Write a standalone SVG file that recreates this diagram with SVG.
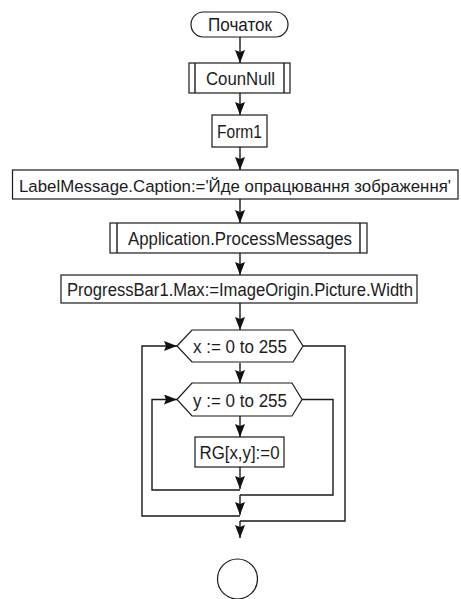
<svg xmlns="http://www.w3.org/2000/svg" width="461" height="599" viewBox="0 0 461 599">
  <style>
    .shape { fill: #ffffff; stroke: #1a1a1a; stroke-width: 1.2; }
    .line { fill: none; stroke: #1a1a1a; stroke-width: 1.4; }
    .label { font-family: "Liberation Sans", Arial, sans-serif; font-size: 18px; fill: #1c1c1c; text-anchor: middle; }
    .long { font-size: 16.8px; }
  </style>
  <defs>
    <marker id="arrow" viewBox="0 0 13 10" refX="13" refY="5" markerWidth="13" markerHeight="10" markerUnits="userSpaceOnUse" orient="auto">
      <path d="M0,0 L13,5 L0,10 L2,5 z" fill="#111111"/>
    </marker>
  </defs>
  <rect width="461" height="599" fill="#ffffff"/>

  <!-- connectors -->
  <g id="connectors">
    <line class="line" x1="240" y1="37" x2="240" y2="63" marker-end="url(#arrow)"/>
    <line class="line" x1="240" y1="93" x2="240" y2="115" marker-end="url(#arrow)"/>
    <line class="line" x1="240" y1="147" x2="240" y2="170" marker-end="url(#arrow)"/>
    <line class="line" x1="240" y1="199" x2="240" y2="223" marker-end="url(#arrow)"/>
    <line class="line" x1="240" y1="253" x2="240" y2="275" marker-end="url(#arrow)"/>
    <line class="line" x1="240" y1="303" x2="240" y2="330" marker-end="url(#arrow)"/>
    <line class="line" x1="240" y1="363" x2="240" y2="383" marker-end="url(#arrow)"/>
    <line class="line" x1="240" y1="416" x2="240" y2="437" marker-end="url(#arrow)"/>
    <line class="line" x1="240" y1="467" x2="240" y2="489" marker-end="url(#arrow)"/>
    <!-- inner loop return -->
    <polyline class="line" points="240,490 152,490 152,399.5 177,399.5" marker-end="url(#arrow)"/>
    <!-- inner loop exit -->
    <polyline class="line" points="302,399.5 333,399.5 333,495 240,495"/>
    <line class="line" x1="240" y1="495" x2="240" y2="515" marker-end="url(#arrow)"/>
    <!-- outer loop return -->
    <polyline class="line" points="240,516 142,516 142,346 177,346" marker-end="url(#arrow)"/>
    <!-- outer loop exit -->
    <polyline class="line" points="303,346 345,346 345,521 240,521"/>
    <line class="line" x1="240" y1="521" x2="240" y2="538" marker-end="url(#arrow)"/>
  </g>

  <g id="start">
    <rect class="shape" x="191" y="12" width="97" height="25" rx="12.5" ry="12.5"/>
    <text class="label" x="240" y="31" textLength="64" lengthAdjust="spacingAndGlyphs">Початок</text>
  </g>

  <g id="counnull">
    <rect class="shape" x="189" y="63" width="101" height="30"/>
    <line class="line" x1="195" y1="63" x2="195" y2="93"/>
    <line class="line" x1="284" y1="63" x2="284" y2="93"/>
    <text class="label" x="240.5" y="84.5" textLength="69" lengthAdjust="spacingAndGlyphs">CounNull</text>
  </g>

  <g id="form1">
    <rect class="shape" x="212" y="115" width="55" height="32"/>
    <text class="label" x="239.5" y="138" textLength="45" lengthAdjust="spacingAndGlyphs">Form1</text>
  </g>

  <g id="caption">
    <rect class="shape" x="12.5" y="170" width="445.5" height="29"/>
    <text class="label long" x="235" y="192" textLength="432" lengthAdjust="spacingAndGlyphs">LabelMessage.Caption:='Йде опрацювання зображення'</text>
  </g>

  <g id="process-messages">
    <rect class="shape" x="110" y="223" width="257" height="30"/>
    <line class="line" x1="117" y1="223" x2="117" y2="253"/>
    <line class="line" x1="360" y1="223" x2="360" y2="253"/>
    <text class="label" x="240" y="245" textLength="224" lengthAdjust="spacingAndGlyphs">Application.ProcessMessages</text>
  </g>

  <g id="progress-max">
    <rect class="shape" x="61" y="275" width="356" height="28"/>
    <text class="label" x="240" y="295.5" textLength="346" lengthAdjust="spacingAndGlyphs">ProgressBar1.Max:=ImageOrigin.Picture.Width</text>
  </g>

  <g id="loop-x">
    <polygon class="shape" points="177,346 192,330 293,330 303,346 293,362 192,362"/>
    <text class="label" x="240" y="353" textLength="94" lengthAdjust="spacingAndGlyphs">x := 0 to 255</text>
  </g>

  <g id="loop-y">
    <polygon class="shape" points="177,399.5 192,383 292,383 302,399.5 292,416 192,416"/>
    <text class="label" x="240" y="406.5" textLength="94" lengthAdjust="spacingAndGlyphs">y := 0 to 255</text>
  </g>

  <g id="rg-zero">
    <rect class="shape" x="195" y="437" width="89" height="30"/>
    <text class="label" x="239.5" y="458.5" textLength="80" lengthAdjust="spacingAndGlyphs">RG[x,y]:=0</text>
  </g>

  <g id="end">
    <circle class="shape" cx="237.5" cy="579" r="20"/>
  </g>
</svg>
